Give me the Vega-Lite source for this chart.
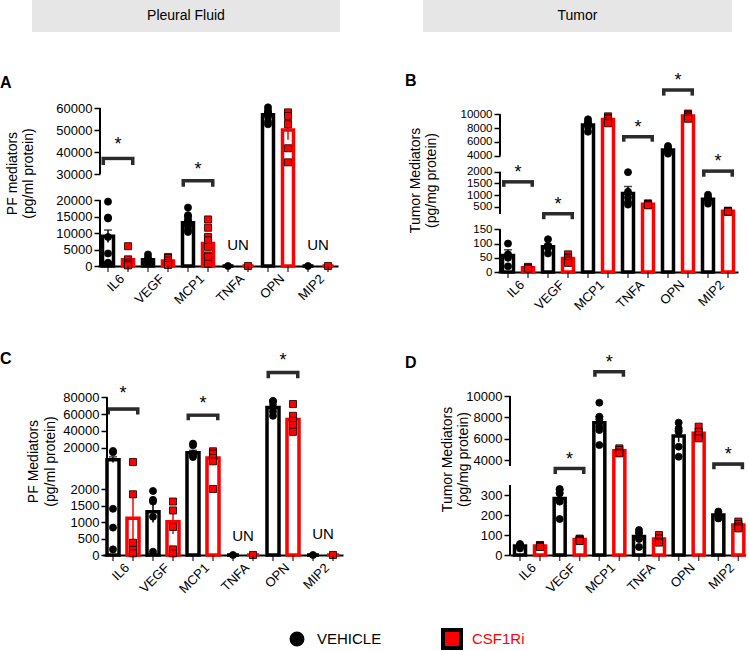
{
"$schema":"https://vega.github.io/schema/vega-lite/v6.json",
"autosize":{"type":"pad"},
"padding":{"left":0,"top":0,"right":0,"bottom":0},
"background":"white",
"config":{"font":"Liberation Sans","view":{"stroke":null},"axis":{"grid":false},"title":{"font":"Liberation Sans"}},
"datasets":{
"bars":[
{"p":"A","m":"IL6","g":"VEHICLE","mean":9000,"lo":7100,"hi":10900},
{"p":"A","m":"IL6","g":"CSF1Ri","mean":1900,"lo":900,"hi":2900},
{"p":"A","m":"VEGF","g":"VEHICLE","mean":1900,"lo":1570,"hi":2230},
{"p":"A","m":"VEGF","g":"CSF1Ri","mean":1500,"lo":1050,"hi":1950},
{"p":"A","m":"MCP1","g":"VEHICLE","mean":13100,"lo":12300,"hi":13900},
{"p":"A","m":"MCP1","g":"CSF1Ri","mean":6800,"lo":5200,"hi":8400},
{"p":"A","m":"TNFA","g":"VEHICLE","mean":0,"lo":null,"hi":null},
{"p":"A","m":"TNFA","g":"CSF1Ri","mean":0,"lo":null,"hi":null},
{"p":"A","m":"OPN","g":"VEHICLE","mean":56900,"lo":55800,"hi":58000},
{"p":"A","m":"OPN","g":"CSF1Ri","mean":50000,"lo":45600,"hi":54400},
{"p":"A","m":"MIP2","g":"VEHICLE","mean":0,"lo":null,"hi":null},
{"p":"A","m":"MIP2","g":"CSF1Ri","mean":0,"lo":null,"hi":null},
{"p":"B","m":"IL6","g":"VEHICLE","mean":58,"lo":38,"hi":78},
{"p":"B","m":"IL6","g":"CSF1Ri","mean":15,"lo":12,"hi":18},
{"p":"B","m":"VEGF","g":"VEHICLE","mean":89,"lo":80,"hi":98},
{"p":"B","m":"VEGF","g":"CSF1Ri","mean":47,"lo":41,"hi":53},
{"p":"B","m":"MCP1","g":"VEHICLE","mean":8450,"lo":8150,"hi":8750},
{"p":"B","m":"MCP1","g":"CSF1Ri","mean":9250,"lo":9070,"hi":9430},
{"p":"B","m":"TNFA","g":"VEHICLE","mean":1070,"lo":770,"hi":1370},
{"p":"B","m":"TNFA","g":"CSF1Ri","mean":614,"lo":584,"hi":644},
{"p":"B","m":"OPN","g":"VEHICLE","mean":4820,"lo":4620,"hi":5020},
{"p":"B","m":"OPN","g":"CSF1Ri","mean":9760,"lo":9630,"hi":9890},
{"p":"B","m":"MIP2","g":"VEHICLE","mean":828,"lo":763,"hi":893},
{"p":"B","m":"MIP2","g":"CSF1Ri","mean":314,"lo":304,"hi":324},
{"p":"C","m":"IL6","g":"VEHICLE","mean":6000,"lo":2700,"hi":9300},
{"p":"C","m":"IL6","g":"CSF1Ri","mean":1110,"lo":470,"hi":1750},
{"p":"C","m":"VEGF","g":"VEHICLE","mean":1313,"lo":983,"hi":1643},
{"p":"C","m":"VEGF","g":"CSF1Ri","mean":1010,"lo":640,"hi":1380},
{"p":"C","m":"MCP1","g":"VEHICLE","mean":14300,"lo":11600,"hi":17000},
{"p":"C","m":"MCP1","g":"CSF1Ri","mean":8000,"lo":6200,"hi":9800},
{"p":"C","m":"TNFA","g":"VEHICLE","mean":0,"lo":null,"hi":null},
{"p":"C","m":"TNFA","g":"CSF1Ri","mean":0,"lo":null,"hi":null},
{"p":"C","m":"OPN","g":"VEHICLE","mean":68000,"lo":64500,"hi":71500},
{"p":"C","m":"OPN","g":"CSF1Ri","mean":53700,"lo":48200,"hi":59200},
{"p":"C","m":"MIP2","g":"VEHICLE","mean":0,"lo":null,"hi":null},
{"p":"C","m":"MIP2","g":"CSF1Ri","mean":0,"lo":null,"hi":null},
{"p":"D","m":"IL6","g":"VEHICLE","mean":45,"lo":40,"hi":50},
{"p":"D","m":"IL6","g":"CSF1Ri","mean":45,"lo":41,"hi":49},
{"p":"D","m":"VEGF","g":"VEHICLE","mean":282,"lo":254,"hi":310},
{"p":"D","m":"VEGF","g":"CSF1Ri","mean":77,"lo":74,"hi":80},
{"p":"D","m":"MCP1","g":"VEHICLE","mean":7500,"lo":6950,"hi":8050},
{"p":"D","m":"MCP1","g":"CSF1Ri","mean":4870,"lo":4760,"hi":4980},
{"p":"D","m":"TNFA","g":"VEHICLE","mean":92,"lo":74,"hi":110},
{"p":"D","m":"TNFA","g":"CSF1Ri","mean":80,"lo":72,"hi":88},
{"p":"D","m":"OPN","g":"VEHICLE","mean":6250,"lo":5700,"hi":6800},
{"p":"D","m":"OPN","g":"CSF1Ri","mean":6500,"lo":6300,"hi":6700},
{"p":"D","m":"MIP2","g":"VEHICLE","mean":200,"lo":192,"hi":208},
{"p":"D","m":"MIP2","g":"CSF1Ri","mean":150,"lo":143,"hi":157}
],
"pts":[
{"p":"A","m":"IL6","g":"VEHICLE","v":19500},{"p":"A","m":"IL6","g":"VEHICLE","v":14700},{"p":"A","m":"IL6","g":"VEHICLE","v":14400},{"p":"A","m":"IL6","g":"VEHICLE","v":8800},{"p":"A","m":"IL6","g":"VEHICLE","v":3800},{"p":"A","m":"IL6","g":"VEHICLE","v":1000},{"p":"A","m":"IL6","g":"VEHICLE","v":800},
{"p":"A","m":"IL6","g":"CSF1Ri","v":6000},{"p":"A","m":"IL6","g":"CSF1Ri","v":2000},{"p":"A","m":"IL6","g":"CSF1Ri","v":1000},{"p":"A","m":"IL6","g":"CSF1Ri","v":500},{"p":"A","m":"IL6","g":"CSF1Ri","v":200},
{"p":"A","m":"VEGF","g":"VEHICLE","v":3500},{"p":"A","m":"VEGF","g":"VEHICLE","v":2500},{"p":"A","m":"VEGF","g":"VEHICLE","v":2000},{"p":"A","m":"VEGF","g":"VEHICLE","v":1700},{"p":"A","m":"VEGF","g":"VEHICLE","v":1500},{"p":"A","m":"VEGF","g":"VEHICLE","v":1200},{"p":"A","m":"VEGF","g":"VEHICLE","v":900},
{"p":"A","m":"VEGF","g":"CSF1Ri","v":2700},{"p":"A","m":"VEGF","g":"CSF1Ri","v":2400},{"p":"A","m":"VEGF","g":"CSF1Ri","v":1600},{"p":"A","m":"VEGF","g":"CSF1Ri","v":900},{"p":"A","m":"VEGF","g":"CSF1Ri","v":300},
{"p":"A","m":"MCP1","g":"VEHICLE","v":17700},{"p":"A","m":"MCP1","g":"VEHICLE","v":15400},{"p":"A","m":"MCP1","g":"VEHICLE","v":14900},{"p":"A","m":"MCP1","g":"VEHICLE","v":13900},{"p":"A","m":"MCP1","g":"VEHICLE","v":13100},{"p":"A","m":"MCP1","g":"VEHICLE","v":12400},{"p":"A","m":"MCP1","g":"VEHICLE","v":11900},{"p":"A","m":"MCP1","g":"VEHICLE","v":10900},{"p":"A","m":"MCP1","g":"VEHICLE","v":10300},
{"p":"A","m":"MCP1","g":"CSF1Ri","v":14100},{"p":"A","m":"MCP1","g":"CSF1Ri","v":11600},{"p":"A","m":"MCP1","g":"CSF1Ri","v":8800},{"p":"A","m":"MCP1","g":"CSF1Ri","v":7800},{"p":"A","m":"MCP1","g":"CSF1Ri","v":5800},{"p":"A","m":"MCP1","g":"CSF1Ri","v":3200},{"p":"A","m":"MCP1","g":"CSF1Ri","v":2700},{"p":"A","m":"MCP1","g":"CSF1Ri","v":700},
{"p":"A","m":"TNFA","g":"VEHICLE","v":0},{"p":"A","m":"TNFA","g":"CSF1Ri","v":0},
{"p":"A","m":"OPN","g":"VEHICLE","v":60300},{"p":"A","m":"OPN","g":"VEHICLE","v":58800},{"p":"A","m":"OPN","g":"VEHICLE","v":58000},{"p":"A","m":"OPN","g":"VEHICLE","v":57100},{"p":"A","m":"OPN","g":"VEHICLE","v":56000},{"p":"A","m":"OPN","g":"VEHICLE","v":53800},{"p":"A","m":"OPN","g":"VEHICLE","v":52600},
{"p":"A","m":"OPN","g":"CSF1Ri","v":58000},{"p":"A","m":"OPN","g":"CSF1Ri","v":56400},{"p":"A","m":"OPN","g":"CSF1Ri","v":52600},{"p":"A","m":"OPN","g":"CSF1Ri","v":41700},{"p":"A","m":"OPN","g":"CSF1Ri","v":35300},
{"p":"A","m":"MIP2","g":"VEHICLE","v":0},{"p":"A","m":"MIP2","g":"CSF1Ri","v":0},
{"p":"B","m":"IL6","g":"VEHICLE","v":100},{"p":"B","m":"IL6","g":"VEHICLE","v":62},{"p":"B","m":"IL6","g":"VEHICLE","v":58},{"p":"B","m":"IL6","g":"VEHICLE","v":50},{"p":"B","m":"IL6","g":"VEHICLE","v":20},
{"p":"B","m":"IL6","g":"CSF1Ri","v":18},{"p":"B","m":"IL6","g":"CSF1Ri","v":15},{"p":"B","m":"IL6","g":"CSF1Ri","v":12},
{"p":"B","m":"VEGF","g":"VEHICLE","v":115},{"p":"B","m":"VEGF","g":"VEHICLE","v":92},{"p":"B","m":"VEGF","g":"VEHICLE","v":89},{"p":"B","m":"VEGF","g":"VEHICLE","v":85},{"p":"B","m":"VEGF","g":"VEHICLE","v":65},
{"p":"B","m":"VEGF","g":"CSF1Ri","v":62},{"p":"B","m":"VEGF","g":"CSF1Ri","v":52},{"p":"B","m":"VEGF","g":"CSF1Ri","v":48},{"p":"B","m":"VEGF","g":"CSF1Ri","v":40},{"p":"B","m":"VEGF","g":"CSF1Ri","v":32},
{"p":"B","m":"MCP1","g":"VEHICLE","v":9270},{"p":"B","m":"MCP1","g":"VEHICLE","v":8900},{"p":"B","m":"MCP1","g":"VEHICLE","v":8600},{"p":"B","m":"MCP1","g":"VEHICLE","v":8210},{"p":"B","m":"MCP1","g":"VEHICLE","v":7480},
{"p":"B","m":"MCP1","g":"CSF1Ri","v":9700},{"p":"B","m":"MCP1","g":"CSF1Ri","v":9500},{"p":"B","m":"MCP1","g":"CSF1Ri","v":9300},{"p":"B","m":"MCP1","g":"CSF1Ri","v":9000},{"p":"B","m":"MCP1","g":"CSF1Ri","v":8700},
{"p":"B","m":"TNFA","g":"VEHICLE","v":1980},{"p":"B","m":"TNFA","g":"VEHICLE","v":1150},{"p":"B","m":"TNFA","g":"VEHICLE","v":900},{"p":"B","m":"TNFA","g":"VEHICLE","v":700},{"p":"B","m":"TNFA","g":"VEHICLE","v":600},
{"p":"B","m":"TNFA","g":"CSF1Ri","v":650},{"p":"B","m":"TNFA","g":"CSF1Ri","v":630},{"p":"B","m":"TNFA","g":"CSF1Ri","v":610},{"p":"B","m":"TNFA","g":"CSF1Ri","v":590},{"p":"B","m":"TNFA","g":"CSF1Ri","v":570},
{"p":"B","m":"OPN","g":"VEHICLE","v":5400},{"p":"B","m":"OPN","g":"VEHICLE","v":5100},{"p":"B","m":"OPN","g":"VEHICLE","v":4800},{"p":"B","m":"OPN","g":"VEHICLE","v":4500},{"p":"B","m":"OPN","g":"VEHICLE","v":4300},
{"p":"B","m":"OPN","g":"CSF1Ri","v":10100},{"p":"B","m":"OPN","g":"CSF1Ri","v":9950},{"p":"B","m":"OPN","g":"CSF1Ri","v":9800},{"p":"B","m":"OPN","g":"CSF1Ri","v":9600},{"p":"B","m":"OPN","g":"CSF1Ri","v":9350},
{"p":"B","m":"MIP2","g":"VEHICLE","v":1020},{"p":"B","m":"MIP2","g":"VEHICLE","v":900},{"p":"B","m":"MIP2","g":"VEHICLE","v":820},{"p":"B","m":"MIP2","g":"VEHICLE","v":760},{"p":"B","m":"MIP2","g":"VEHICLE","v":640},
{"p":"B","m":"MIP2","g":"CSF1Ri","v":340},{"p":"B","m":"MIP2","g":"CSF1Ri","v":320},{"p":"B","m":"MIP2","g":"CSF1Ri","v":310},{"p":"B","m":"MIP2","g":"CSF1Ri","v":300},{"p":"B","m":"MIP2","g":"CSF1Ri","v":300},
{"p":"C","m":"IL6","g":"VEHICLE","v":16300},{"p":"C","m":"IL6","g":"VEHICLE","v":14700},{"p":"C","m":"IL6","g":"VEHICLE","v":1400},{"p":"C","m":"IL6","g":"VEHICLE","v":830},{"p":"C","m":"IL6","g":"VEHICLE","v":170},
{"p":"C","m":"IL6","g":"CSF1Ri","v":3190},{"p":"C","m":"IL6","g":"CSF1Ri","v":1840},{"p":"C","m":"IL6","g":"CSF1Ri","v":370},{"p":"C","m":"IL6","g":"CSF1Ri","v":150},{"p":"C","m":"IL6","g":"CSF1Ri","v":50},
{"p":"C","m":"VEGF","g":"VEHICLE","v":1940},{"p":"C","m":"VEGF","g":"VEHICLE","v":1670},{"p":"C","m":"VEGF","g":"VEHICLE","v":1620},{"p":"C","m":"VEGF","g":"VEHICLE","v":1160},{"p":"C","m":"VEGF","g":"VEHICLE","v":100},
{"p":"C","m":"VEGF","g":"CSF1Ri","v":1620},{"p":"C","m":"VEGF","g":"CSF1Ri","v":1350},{"p":"C","m":"VEGF","g":"CSF1Ri","v":850},{"p":"C","m":"VEGF","g":"CSF1Ri","v":170},{"p":"C","m":"VEGF","g":"CSF1Ri","v":50},
{"p":"C","m":"MCP1","g":"VEHICLE","v":25000},{"p":"C","m":"MCP1","g":"VEHICLE","v":23000},{"p":"C","m":"MCP1","g":"VEHICLE","v":13000},{"p":"C","m":"MCP1","g":"VEHICLE","v":11000},{"p":"C","m":"MCP1","g":"VEHICLE","v":9000},
{"p":"C","m":"MCP1","g":"CSF1Ri","v":15900},{"p":"C","m":"MCP1","g":"CSF1Ri","v":13100},{"p":"C","m":"MCP1","g":"CSF1Ri","v":8000},{"p":"C","m":"MCP1","g":"CSF1Ri","v":4000},{"p":"C","m":"MCP1","g":"CSF1Ri","v":2000},
{"p":"C","m":"TNFA","g":"VEHICLE","v":0},{"p":"C","m":"TNFA","g":"CSF1Ri","v":0},
{"p":"C","m":"OPN","g":"VEHICLE","v":75800},{"p":"C","m":"OPN","g":"VEHICLE","v":74800},{"p":"C","m":"OPN","g":"VEHICLE","v":68000},{"p":"C","m":"OPN","g":"VEHICLE","v":63000},{"p":"C","m":"OPN","g":"VEHICLE","v":58000},
{"p":"C","m":"OPN","g":"CSF1Ri","v":72000},{"p":"C","m":"OPN","g":"CSF1Ri","v":58000},{"p":"C","m":"OPN","g":"CSF1Ri","v":52000},{"p":"C","m":"OPN","g":"CSF1Ri","v":47000},{"p":"C","m":"OPN","g":"CSF1Ri","v":39000},
{"p":"C","m":"MIP2","g":"VEHICLE","v":0},{"p":"C","m":"MIP2","g":"CSF1Ri","v":0},
{"p":"D","m":"IL6","g":"VEHICLE","v":55},{"p":"D","m":"IL6","g":"VEHICLE","v":50},{"p":"D","m":"IL6","g":"VEHICLE","v":45},{"p":"D","m":"IL6","g":"VEHICLE","v":42},{"p":"D","m":"IL6","g":"VEHICLE","v":33},
{"p":"D","m":"IL6","g":"CSF1Ri","v":50},{"p":"D","m":"IL6","g":"CSF1Ri","v":48},{"p":"D","m":"IL6","g":"CSF1Ri","v":45},{"p":"D","m":"IL6","g":"CSF1Ri","v":42},{"p":"D","m":"IL6","g":"CSF1Ri","v":40},
{"p":"D","m":"VEGF","g":"VEHICLE","v":330},{"p":"D","m":"VEGF","g":"VEHICLE","v":325},{"p":"D","m":"VEGF","g":"VEHICLE","v":308},{"p":"D","m":"VEGF","g":"VEHICLE","v":267},{"p":"D","m":"VEGF","g":"VEHICLE","v":180},
{"p":"D","m":"VEGF","g":"CSF1Ri","v":82},{"p":"D","m":"VEGF","g":"CSF1Ri","v":78},{"p":"D","m":"VEGF","g":"CSF1Ri","v":75},{"p":"D","m":"VEGF","g":"CSF1Ri","v":72},{"p":"D","m":"VEGF","g":"CSF1Ri","v":70},
{"p":"D","m":"MCP1","g":"VEHICLE","v":9375},{"p":"D","m":"MCP1","g":"VEHICLE","v":8060},{"p":"D","m":"MCP1","g":"VEHICLE","v":7810},{"p":"D","m":"MCP1","g":"VEHICLE","v":7125},{"p":"D","m":"MCP1","g":"VEHICLE","v":6810},{"p":"D","m":"MCP1","g":"VEHICLE","v":5400},
{"p":"D","m":"MCP1","g":"CSF1Ri","v":5090},{"p":"D","m":"MCP1","g":"CSF1Ri","v":4940},{"p":"D","m":"MCP1","g":"CSF1Ri","v":4690},{"p":"D","m":"MCP1","g":"CSF1Ri","v":4625},
{"p":"D","m":"TNFA","g":"VEHICLE","v":125},{"p":"D","m":"TNFA","g":"VEHICLE","v":110},{"p":"D","m":"TNFA","g":"VEHICLE","v":90},{"p":"D","m":"TNFA","g":"VEHICLE","v":80},{"p":"D","m":"TNFA","g":"VEHICLE","v":40},
{"p":"D","m":"TNFA","g":"CSF1Ri","v":100},{"p":"D","m":"TNFA","g":"CSF1Ri","v":83},{"p":"D","m":"TNFA","g":"CSF1Ri","v":67},{"p":"D","m":"TNFA","g":"CSF1Ri","v":62},
{"p":"D","m":"OPN","g":"VEHICLE","v":7500},{"p":"D","m":"OPN","g":"VEHICLE","v":6970},{"p":"D","m":"OPN","g":"VEHICLE","v":6660},{"p":"D","m":"OPN","g":"VEHICLE","v":5250},{"p":"D","m":"OPN","g":"VEHICLE","v":4310},
{"p":"D","m":"OPN","g":"CSF1Ri","v":7125},{"p":"D","m":"OPN","g":"CSF1Ri","v":6660},{"p":"D","m":"OPN","g":"CSF1Ri","v":6340},{"p":"D","m":"OPN","g":"CSF1Ri","v":6030},
{"p":"D","m":"MIP2","g":"VEHICLE","v":217},{"p":"D","m":"MIP2","g":"VEHICLE","v":205},{"p":"D","m":"MIP2","g":"VEHICLE","v":192},{"p":"D","m":"MIP2","g":"VEHICLE","v":183},
{"p":"D","m":"MIP2","g":"CSF1Ri","v":167},{"p":"D","m":"MIP2","g":"CSF1Ri","v":155},{"p":"D","m":"MIP2","g":"CSF1Ri","v":142},{"p":"D","m":"MIP2","g":"CSF1Ri","v":133}
],
"brk":[
{"p":"A","m":"IL6","lo":34090,"hi":37880},{"p":"A","m":"MCP1","lo":25130,"hi":28080},
{"p":"B","m":"IL6","lo":1357,"hi":1643},{"p":"B","m":"VEGF","lo":183,"hi":285},{"p":"B","m":"TNFA","lo":6032,"hi":7000},{"p":"B","m":"OPN","lo":12710,"hi":13775},{"p":"B","m":"MIP2","lo":1786,"hi":2292},
{"p":"C","m":"IL6","lo":59700,"hi":68070},{"p":"C","m":"MCP1","lo":52900,"hi":60900},{"p":"C","m":"OPN","lo":102700,"hi":111450},
{"p":"D","m":"VEGF","lo":2139,"hi":3326},{"p":"D","m":"MCP1","lo":11810,"hi":12440},{"p":"D","m":"MIP2","lo":2903,"hi":3780}
],
"txt":[
{"p":"A","m":"IL6","t":"*","y":45450},{"p":"A","m":"MCP1","t":"*","y":34090},{"p":"A","m":"TNFA","t":"UN","y":6300},{"p":"A","m":"MIP2","t":"UN","y":6300},
{"p":"B","m":"IL6","t":"*","y":2417},{"p":"B","m":"VEGF","t":"*","y":785},{"p":"B","m":"TNFA","t":"*","y":8790},{"p":"B","m":"OPN","t":"*","y":15565},{"p":"B","m":"MIP2","t":"*","y":3875},
{"p":"C","m":"IL6","t":"*","y":89560},{"p":"C","m":"MCP1","t":"*","y":77600},{"p":"C","m":"OPN","t":"*","y":128560},{"p":"C","m":"TNFA","t":"UN","y":580},{"p":"C","m":"MIP2","t":"UN","y":650},
{"p":"D","m":"VEGF","t":"*","y":4469},{"p":"D","m":"MCP1","t":"*","y":13530},{"p":"D","m":"MIP2","t":"*","y":4940}
],
"seg":[
{"p":"A","y0":0,"y1":20000},{"p":"A","y0":30000,"y1":60000},
{"p":"B","y0":0,"y1":150},{"p":"B","y0":200,"y1":2000},{"p":"B","y0":4000,"y1":10000},
{"p":"C","y0":0,"y1":2000},{"p":"C","y0":2001,"y1":80000},
{"p":"D","y0":0,"y1":350},{"p":"D","y0":3440,"y1":10000}
],
"leg":[{"g":"VEHICLE"},{"g":"CSF1Ri"}]
},
"columns":2,
"spacing":{"row":68,"column":83},
"bounds":"flush",
"align":"each",
"concat":[
{"width":308,"height":32,"view":{"fill":"#e6e6e6","stroke":null},"data":{"values":[{}]},"mark":{"type":"text","text":"Pleural Fluid","fontSize":14,"color":"black"},"encoding":{}},
{"width":309,"height":32,"view":{"fill":"#e6e6e6","stroke":null},"data":{"values":[{}]},"mark":{"type":"text","text":"Tumor","fontSize":14,"color":"black"},"encoding":{}},
{"width":308,"height":166,
"title":{"text":"A","anchor":"start","frame":"group","dx":-32,"dy":-1,"fontSize":16,"fontWeight":"bold","offset":8,"color":"black"},
"layer":[
{"data":{"name":"bars"},"transform":[{"filter":"datum.p=='A'"}],"mark":{"type":"bar","width":11,"fill":"white","strokeWidth":3.5},
"encoding":{
"x":{"field":"m","type":"nominal","scale":{"domain":["IL6","VEGF","MCP1","TNFA","OPN","MIP2"],"range":[66,306],"paddingInner":0,"paddingOuter":0},"axis":{"title":null,"domain":true,"domainColor":"black","domainWidth":2,"ticks":false,"labelAngle":-45,"labelFontSize":13,"labelPadding":6,"labelColor":"black"}},
"xOffset":{"field":"g","type":"nominal","scale":{"domain":["VEHICLE","CSF1Ri"],"paddingInner":0,"paddingOuter":0}},
"y":{"field":"mean","type":"quantitative","scale":{"domain":[0,20000,30000,60000],"range":[166,100,74,8],"nice":false},"axis":{"orient":"left","offset":-68,"domain":false,"values":[0,5000,10000,15000,20000,30000,40000,50000,60000],"tickCount":100,"format":"d","tickSize":6,"tickWidth":1.5,"tickColor":"black","labelFontSize":13,"labelColor":"black","labelPadding":2,"labelOverlap":false,"title":["PF mediators","(pg/ml protein)"],"titleFontSize":14,"titleFontWeight":"normal","titleColor":"black","titleY":73,"titlePadding":20,"titleLineHeight":16}},
"stroke":{"field":"g","type":"nominal","scale":{"domain":["VEHICLE","CSF1Ri"],"range":["black","#ff0000"]},"legend":null}}},
{"data":{"name":"bars"},"transform":[{"filter":"datum.p=='A' && datum.hi != null"}],"mark":{"type":"rule","strokeWidth":1.5},
"encoding":{"x":{"field":"m","type":"nominal"},"xOffset":{"field":"g","type":"nominal"},"y":{"field":"lo","type":"quantitative"},"y2":{"field":"hi"},"stroke":{"field":"g","type":"nominal","legend":null}}},
{"data":{"name":"bars"},"transform":[{"filter":"datum.p=='A' && datum.hi != null"}],"mark":{"type":"tick","orient":"horizontal","size":8,"thickness":1.5},
"encoding":{"x":{"field":"m","type":"nominal"},"xOffset":{"field":"g","type":"nominal"},"y":{"field":"hi","type":"quantitative"},"fill":{"field":"g","type":"nominal","scale":{"domain":["VEHICLE","CSF1Ri"],"range":["black","#ff0000"]},"legend":null}}},
{"data":{"name":"pts"},"transform":[{"filter":"datum.p=='A'"}],"mark":{"type":"point","filled":true,"size":50,"stroke":"black","strokeWidth":0.8,"opacity":1},
"encoding":{"x":{"field":"m","type":"nominal"},"xOffset":{"field":"g","type":"nominal"},"y":{"field":"v","type":"quantitative"},"shape":{"field":"g","type":"nominal","scale":{"domain":["VEHICLE","CSF1Ri"],"range":["circle","square"]},"legend":null},"fill":{"field":"g","type":"nominal","legend":null}}},
{"data":{"name":"brk"},"transform":[{"filter":"datum.p=='A'"}],"mark":{"type":"bar","width":33,"fill":"#2b2b2b"},
"encoding":{"x":{"field":"m","type":"nominal"},"y":{"field":"hi","type":"quantitative"},"y2":{"field":"lo"}}},
{"data":{"name":"brk"},"transform":[{"filter":"datum.p=='A'"}],"mark":{"type":"bar","width":26,"fill":"white","yOffset":3.5,"y2Offset":1},
"encoding":{"x":{"field":"m","type":"nominal"},"y":{"field":"hi","type":"quantitative"},"y2":{"field":"lo"}}},
{"data":{"name":"txt"},"transform":[{"filter":"datum.p=='A' && datum.t=='*'"}],"mark":{"type":"text","fontSize":18,"baseline":"alphabetic","dy":10,"color":"black"},
"encoding":{"x":{"field":"m","type":"nominal"},"y":{"field":"y","type":"quantitative"},"text":{"field":"t"}}},
{"data":{"name":"txt"},"transform":[{"filter":"datum.p=='A' && datum.t=='UN'"}],"mark":{"type":"text","fontSize":15,"baseline":"middle","color":"black"},
"encoding":{"x":{"field":"m","type":"nominal"},"y":{"field":"y","type":"quantitative"},"text":{"field":"t"}}},
{"data":{"name":"bars"},"transform":[{"filter":"datum.p=='A'"}],"mark":{"type":"tick","orient":"vertical","size":6,"thickness":1.5,"yOffset":3,"color":"black"},
"encoding":{"x":{"field":"m","type":"nominal"},"xOffset":{"field":"g","type":"nominal"},"y":{"datum":0,"type":"quantitative"}}},
{"data":{"name":"seg"},"transform":[{"filter":"datum.p=='A'"}],"mark":{"type":"rule","strokeWidth":2,"color":"black","xOffset":2},
"encoding":{"x":{"datum":"IL6","type":"nominal","bandPosition":0},"y":{"field":"y0","type":"quantitative"},"y2":{"field":"y1"}}}
]},
{"width":309,"height":172,
"title":{"text":"B","anchor":"start","frame":"group","dx":-18,"dy":25,"fontSize":16,"fontWeight":"bold","offset":8,"color":"black"},
"layer":[
{"data":{"name":"bars"},"transform":[{"filter":"datum.p=='B'"}],"mark":{"type":"bar","width":11,"fill":"white","strokeWidth":3.5},
"encoding":{
"x":{"field":"m","type":"nominal","scale":{"domain":["IL6","VEGF","MCP1","TNFA","OPN","MIP2"],"range":[75,315],"paddingInner":0,"paddingOuter":0},"axis":{"title":null,"domain":true,"domainColor":"black","domainWidth":2,"ticks":false,"labelAngle":-45,"labelFontSize":13,"labelPadding":6,"labelColor":"black"}},
"xOffset":{"field":"g","type":"nominal","scale":{"domain":["VEHICLE","CSF1Ri"],"paddingInner":0,"paddingOuter":0}},
"y":{"field":"mean","type":"quantitative","scale":{"domain":[0,150,200,2000,4000,10000],"range":[172,129.3,114,71.7,55.7,14.3],"nice":false},"axis":{"orient":"left","offset":-77,"domain":false,"values":[0,50,100,150,500,1000,1500,2000,4000,6000,8000,10000],"tickCount":100,"format":"d","tickSize":6,"tickWidth":1.5,"tickColor":"black","labelFontSize":11.5,"labelColor":"black","labelPadding":2,"labelOverlap":false,"title":["Tumor Mediators","(pg/mg protein)"],"titleFontSize":14,"titleFontWeight":"normal","titleColor":"black","titleY":80,"titlePadding":22,"titleLineHeight":16}},
"stroke":{"field":"g","type":"nominal","scale":{"domain":["VEHICLE","CSF1Ri"],"range":["black","#ff0000"]},"legend":null}}},
{"data":{"name":"bars"},"transform":[{"filter":"datum.p=='B' && datum.hi != null"}],"mark":{"type":"rule","strokeWidth":1.5},
"encoding":{"x":{"field":"m","type":"nominal"},"xOffset":{"field":"g","type":"nominal"},"y":{"field":"lo","type":"quantitative"},"y2":{"field":"hi"},"stroke":{"field":"g","type":"nominal","legend":null}}},
{"data":{"name":"bars"},"transform":[{"filter":"datum.p=='B' && datum.hi != null"}],"mark":{"type":"tick","orient":"horizontal","size":8,"thickness":1.5},
"encoding":{"x":{"field":"m","type":"nominal"},"xOffset":{"field":"g","type":"nominal"},"y":{"field":"hi","type":"quantitative"},"fill":{"field":"g","type":"nominal","scale":{"domain":["VEHICLE","CSF1Ri"],"range":["black","#ff0000"]},"legend":null}}},
{"data":{"name":"pts"},"transform":[{"filter":"datum.p=='B'"}],"mark":{"type":"point","filled":true,"size":50,"stroke":"black","strokeWidth":0.8,"opacity":1},
"encoding":{"x":{"field":"m","type":"nominal"},"xOffset":{"field":"g","type":"nominal"},"y":{"field":"v","type":"quantitative"},"shape":{"field":"g","type":"nominal","scale":{"domain":["VEHICLE","CSF1Ri"],"range":["circle","square"]},"legend":null},"fill":{"field":"g","type":"nominal","legend":null}}},
{"data":{"name":"brk"},"transform":[{"filter":"datum.p=='B'"}],"mark":{"type":"bar","width":32,"fill":"#2b2b2b"},
"encoding":{"x":{"field":"m","type":"nominal"},"y":{"field":"hi","type":"quantitative"},"y2":{"field":"lo"}}},
{"data":{"name":"brk"},"transform":[{"filter":"datum.p=='B'"}],"mark":{"type":"bar","width":25,"fill":"white","yOffset":3.5,"y2Offset":1},
"encoding":{"x":{"field":"m","type":"nominal"},"y":{"field":"hi","type":"quantitative"},"y2":{"field":"lo"}}},
{"data":{"name":"txt"},"transform":[{"filter":"datum.p=='B' && datum.t=='*'"}],"mark":{"type":"text","fontSize":18,"baseline":"alphabetic","dy":10,"color":"black"},
"encoding":{"x":{"field":"m","type":"nominal"},"y":{"field":"y","type":"quantitative"},"text":{"field":"t"}}},
{"data":{"name":"bars"},"transform":[{"filter":"datum.p=='B'"}],"mark":{"type":"tick","orient":"vertical","size":6,"thickness":1.5,"yOffset":3,"color":"black"},
"encoding":{"x":{"field":"m","type":"nominal"},"xOffset":{"field":"g","type":"nominal"},"y":{"datum":0,"type":"quantitative"}}},
{"data":{"name":"seg"},"transform":[{"filter":"datum.p=='B'"}],"mark":{"type":"rule","strokeWidth":2,"color":"black","xOffset":2},
"encoding":{"x":{"datum":"IL6","type":"nominal","bandPosition":0},"y":{"field":"y0","type":"quantitative"},"y2":{"field":"y1"}}}
]},
{"width":308,"height":215,
"title":{"text":"C","anchor":"start","frame":"group","dx":-32,"dy":35,"fontSize":16,"fontWeight":"bold","offset":8,"color":"black"},
"layer":[
{"data":{"name":"bars"},"transform":[{"filter":"datum.p=='C'"}],"mark":{"type":"bar","width":12,"fill":"white","strokeWidth":3.5},
"encoding":{
"x":{"field":"m","type":"nominal","scale":{"domain":["IL6","VEGF","MCP1","TNFA","OPN","MIP2"],"range":[71,311],"paddingInner":0,"paddingOuter":0},"axis":{"title":null,"domain":true,"domainColor":"black","domainWidth":2,"ticks":false,"labelAngle":-45,"labelFontSize":13,"labelPadding":6,"labelColor":"black"}},
"xOffset":{"field":"g","type":"nominal","scale":{"domain":["VEHICLE","CSF1Ri"],"paddingInner":0,"paddingOuter":0}},
"y":{"field":"mean","type":"quantitative","scale":{"domain":[0,2000,2001,80000],"range":[215,149,123,57.3],"nice":false},"axis":{"orient":"left","offset":-75,"domain":false,"values":[0,500,1000,1500,2000,20000,40000,60000,80000],"tickCount":100,"format":"d","tickSize":6,"tickWidth":1.5,"tickColor":"black","labelFontSize":13,"labelColor":"black","labelPadding":2,"labelOverlap":false,"title":["PF Mediators","(pg/ml protein)"],"titleFontSize":14,"titleFontWeight":"normal","titleColor":"black","titleY":121,"titlePadding":5,"titleLineHeight":17}},
"stroke":{"field":"g","type":"nominal","scale":{"domain":["VEHICLE","CSF1Ri"],"range":["black","#ff0000"]},"legend":null}}},
{"data":{"name":"bars"},"transform":[{"filter":"datum.p=='C' && datum.hi != null"}],"mark":{"type":"rule","strokeWidth":1.5},
"encoding":{"x":{"field":"m","type":"nominal"},"xOffset":{"field":"g","type":"nominal"},"y":{"field":"lo","type":"quantitative"},"y2":{"field":"hi"},"stroke":{"field":"g","type":"nominal","legend":null}}},
{"data":{"name":"bars"},"transform":[{"filter":"datum.p=='C' && datum.hi != null"}],"mark":{"type":"tick","orient":"horizontal","size":8,"thickness":1.5},
"encoding":{"x":{"field":"m","type":"nominal"},"xOffset":{"field":"g","type":"nominal"},"y":{"field":"hi","type":"quantitative"},"fill":{"field":"g","type":"nominal","scale":{"domain":["VEHICLE","CSF1Ri"],"range":["black","#ff0000"]},"legend":null}}},
{"data":{"name":"pts"},"transform":[{"filter":"datum.p=='C'"}],"mark":{"type":"point","filled":true,"size":50,"stroke":"black","strokeWidth":0.8,"opacity":1},
"encoding":{"x":{"field":"m","type":"nominal"},"xOffset":{"field":"g","type":"nominal"},"y":{"field":"v","type":"quantitative"},"shape":{"field":"g","type":"nominal","scale":{"domain":["VEHICLE","CSF1Ri"],"range":["circle","square"]},"legend":null},"fill":{"field":"g","type":"nominal","legend":null}}},
{"data":{"name":"brk"},"transform":[{"filter":"datum.p=='C'"}],"mark":{"type":"bar","width":33,"fill":"#2b2b2b"},
"encoding":{"x":{"field":"m","type":"nominal"},"y":{"field":"hi","type":"quantitative"},"y2":{"field":"lo"}}},
{"data":{"name":"brk"},"transform":[{"filter":"datum.p=='C'"}],"mark":{"type":"bar","width":26,"fill":"white","yOffset":3.5,"y2Offset":1},
"encoding":{"x":{"field":"m","type":"nominal"},"y":{"field":"hi","type":"quantitative"},"y2":{"field":"lo"}}},
{"data":{"name":"txt"},"transform":[{"filter":"datum.p=='C' && datum.t=='*'"}],"mark":{"type":"text","fontSize":18,"baseline":"alphabetic","dy":10,"color":"black"},
"encoding":{"x":{"field":"m","type":"nominal"},"y":{"field":"y","type":"quantitative"},"text":{"field":"t"}}},
{"data":{"name":"txt"},"transform":[{"filter":"datum.p=='C' && datum.t=='UN'"}],"mark":{"type":"text","fontSize":15,"baseline":"middle","color":"black"},
"encoding":{"x":{"field":"m","type":"nominal"},"y":{"field":"y","type":"quantitative"},"text":{"field":"t"}}},
{"data":{"name":"bars"},"transform":[{"filter":"datum.p=='C'"}],"mark":{"type":"tick","orient":"vertical","size":6,"thickness":1.5,"yOffset":3,"color":"black"},
"encoding":{"x":{"field":"m","type":"nominal"},"xOffset":{"field":"g","type":"nominal"},"y":{"datum":0,"type":"quantitative"}}},
{"data":{"name":"seg"},"transform":[{"filter":"datum.p=='C'"}],"mark":{"type":"rule","strokeWidth":2,"color":"black","xOffset":4},
"encoding":{"x":{"datum":"IL6","type":"nominal","bandPosition":0},"y":{"field":"y0","type":"quantitative"},"y2":{"field":"y1"}}}
]},
{"width":309,"height":215,
"title":{"text":"D","anchor":"start","frame":"group","dx":-18,"dy":39,"fontSize":16,"fontWeight":"bold","offset":8,"color":"black"},
"layer":[
{"data":{"name":"bars"},"transform":[{"filter":"datum.p=='D'"}],"mark":{"type":"bar","width":11,"fill":"white","strokeWidth":3.5},
"encoding":{
"x":{"field":"m","type":"nominal","scale":{"domain":["IL6","VEGF","MCP1","TNFA","OPN","MIP2"],"range":[87,325],"paddingInner":0,"paddingOuter":0},"axis":{"title":null,"domain":true,"domainColor":"black","domainWidth":2,"ticks":false,"labelAngle":-45,"labelFontSize":13,"labelPadding":6,"labelColor":"black"}},
"xOffset":{"field":"g","type":"nominal","scale":{"domain":["VEHICLE","CSF1Ri"],"paddingInner":0,"paddingOuter":0}},
"y":{"field":"mean","type":"quantitative","scale":{"domain":[0,350,3440,10000],"range":[215,145,126,56],"nice":false},"axis":{"orient":"left","offset":-87,"domain":false,"values":[0,100,200,300,4000,6000,8000,10000],"tickCount":100,"format":"d","tickSize":6,"tickWidth":1.5,"tickColor":"black","labelFontSize":13,"labelColor":"black","labelPadding":2,"labelOverlap":false,"title":["Tumor Mediators","(pg/mg protein)"],"titleFontSize":14,"titleFontWeight":"normal","titleColor":"black","titleY":119,"titlePadding":-5,"titleLineHeight":16}},
"stroke":{"field":"g","type":"nominal","scale":{"domain":["VEHICLE","CSF1Ri"],"range":["black","#ff0000"]},"legend":null}}},
{"data":{"name":"bars"},"transform":[{"filter":"datum.p=='D' && datum.hi != null"}],"mark":{"type":"rule","strokeWidth":1.5},
"encoding":{"x":{"field":"m","type":"nominal"},"xOffset":{"field":"g","type":"nominal"},"y":{"field":"lo","type":"quantitative"},"y2":{"field":"hi"},"stroke":{"field":"g","type":"nominal","legend":null}}},
{"data":{"name":"bars"},"transform":[{"filter":"datum.p=='D' && datum.hi != null"}],"mark":{"type":"tick","orient":"horizontal","size":8,"thickness":1.5},
"encoding":{"x":{"field":"m","type":"nominal"},"xOffset":{"field":"g","type":"nominal"},"y":{"field":"hi","type":"quantitative"},"fill":{"field":"g","type":"nominal","scale":{"domain":["VEHICLE","CSF1Ri"],"range":["black","#ff0000"]},"legend":null}}},
{"data":{"name":"pts"},"transform":[{"filter":"datum.p=='D'"}],"mark":{"type":"point","filled":true,"size":50,"stroke":"black","strokeWidth":0.8,"opacity":1},
"encoding":{"x":{"field":"m","type":"nominal"},"xOffset":{"field":"g","type":"nominal"},"y":{"field":"v","type":"quantitative"},"shape":{"field":"g","type":"nominal","scale":{"domain":["VEHICLE","CSF1Ri"],"range":["circle","square"]},"legend":null},"fill":{"field":"g","type":"nominal","legend":null}}},
{"data":{"name":"brk"},"transform":[{"filter":"datum.p=='D'"}],"mark":{"type":"bar","width":32,"fill":"#2b2b2b"},
"encoding":{"x":{"field":"m","type":"nominal"},"y":{"field":"hi","type":"quantitative"},"y2":{"field":"lo"}}},
{"data":{"name":"brk"},"transform":[{"filter":"datum.p=='D'"}],"mark":{"type":"bar","width":25,"fill":"white","yOffset":3.5,"y2Offset":1},
"encoding":{"x":{"field":"m","type":"nominal"},"y":{"field":"hi","type":"quantitative"},"y2":{"field":"lo"}}},
{"data":{"name":"txt"},"transform":[{"filter":"datum.p=='D' && datum.t=='*'"}],"mark":{"type":"text","fontSize":18,"baseline":"alphabetic","dy":10,"color":"black"},
"encoding":{"x":{"field":"m","type":"nominal"},"y":{"field":"y","type":"quantitative"},"text":{"field":"t"}}},
{"data":{"name":"bars"},"transform":[{"filter":"datum.p=='D'"}],"mark":{"type":"tick","orient":"vertical","size":6,"thickness":1.5,"yOffset":3,"color":"black"},
"encoding":{"x":{"field":"m","type":"nominal"},"xOffset":{"field":"g","type":"nominal"},"y":{"datum":0,"type":"quantitative"}}},
{"data":{"name":"seg"},"transform":[{"filter":"datum.p=='D'"}],"mark":{"type":"rule","strokeWidth":2,"color":"black","xOffset":0},
"encoding":{"x":{"datum":"IL6","type":"nominal","bandPosition":0},"y":{"field":"y0","type":"quantitative"},"y2":{"field":"y1"}}}
]},
{"width":308,"height":32,"data":{"name":"leg"},
"layer":[
{"mark":{"type":"point","filled":true,"stroke":"black","strokeWidth":4,"opacity":1},
"encoding":{"x":{"field":"g","type":"nominal","scale":{"type":"point","domain":["VEHICLE","CSF1Ri"],"range":[265,420],"padding":0},"axis":null},
"shape":{"field":"g","type":"nominal","scale":{"domain":["VEHICLE","CSF1Ri"],"range":["circle","square"]},"legend":null},
"fill":{"field":"g","type":"nominal","scale":{"domain":["VEHICLE","CSF1Ri"],"range":["black","#ff0000"]},"legend":null},
"size":{"field":"g","type":"nominal","scale":{"domain":["VEHICLE","CSF1Ri"],"range":[120,324]},"legend":null}}},
{"mark":{"type":"text","align":"left","dx":20,"fontSize":15},
"encoding":{"x":{"field":"g","type":"nominal"},"text":{"field":"g"},"fill":{"field":"g","type":"nominal","legend":null}}}
]}
]
}
